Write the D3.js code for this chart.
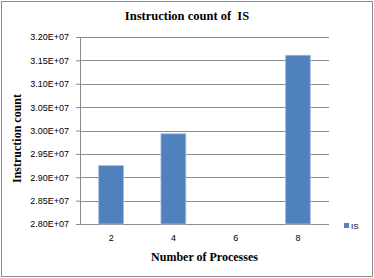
<!DOCTYPE html>
<html>
<head>
<meta charset="utf-8">
<script src="https://cdn.jsdelivr.net/npm/d3@7"></script>
<style>
  body { margin: 0; background: #fff; }
  svg { display: block; }
  .tick text { font-family: "Liberation Sans", Arial, sans-serif; font-size: 9px; fill: #000; }
  .title { font-family: "Liberation Serif", "Times New Roman", serif; font-weight: bold; }
</style>
</head>
<body>
<svg id="chart"></svg>
<script>
const categories = ['2', '4', '6', '8']
const values = [2.925e7, 2.993e7, null, 3.161e7]
const yTicks = [2.80e7, 2.85e7, 2.90e7, 2.95e7, 3.00e7, 3.05e7, 3.10e7, 3.15e7, 3.20e7]
const seriesName = 'IS'

const W = 374, H = 278
const margin = {top: 37, right: 45, bottom: 54, left: 80}
const innerW = W - margin.left - margin.right
const innerH = H - margin.top - margin.bottom

const svg = d3.select('#chart').attr('width', W).attr('height', H)

svg.append('rect')
	.attr('x', 1.5).attr('y', 1.5)
	.attr('width', W - 3).attr('height', H - 3)
	.attr('fill', '#fff').attr('stroke', '#8c8c8c')

const g = svg.append('g').attr('transform', `translate(${margin.left},${margin.top})`)

const x = d3.scaleBand().domain(categories).range([0, innerW]).paddingInner(0.6).paddingOuter(0.3)
const y = d3.scaleLinear().domain([2.8e7, 3.2e7]).range([innerH, 0])

// gridlines
g.selectAll('line.grid')
	.data(yTicks)
	.enter().append('line')
	.attr('class', 'grid')
	.attr('x1', 0).attr('x2', innerW)
	.attr('y1', d => Math.round(y(d)) + 0.5).attr('y2', d => Math.round(y(d)) + 0.5)
	.attr('stroke', '#8c8c8c')

// y axis
const yAxis = g.append('g')
	.call(d3.axisLeft(y).tickValues(yTicks).tickSize(4).tickPadding(7)
		.tickFormat(d => d3.format('.2e')(d).toUpperCase().replace('E+', 'E+0')))
yAxis.select('.domain').attr('stroke', '#8c8c8c')
yAxis.selectAll('.tick line').attr('stroke', '#8c8c8c')

// x axis
const xAxis = g.append('g')
	.attr('transform', `translate(0,${innerH})`)
	.call(d3.axisBottom(x).tickSize(0).tickPadding(11))
xAxis.select('.domain').remove()

// bars
g.selectAll('rect.bar')
	.data(values.map((v, i) => ({cat: categories[i], v})).filter(d => d.v != null))
	.enter().append('rect')
	.attr('class', 'bar')
	.attr('x', d => x(d.cat))
	.attr('width', x.bandwidth())
	.attr('y', d => y(d.v))
	.attr('height', d => innerH - y(d.v))
	.attr('fill', '#4f81bd')
	.attr('stroke', '#a7c0de').attr('stroke-width', 0.8)

// titles
svg.append('text').attr('class', 'title')
	.attr('x', 187).attr('y', 20)
	.attr('text-anchor', 'middle').attr('font-size', 12.5)
	.attr('xml:space', 'preserve')
	.text('Instruction count of  IS')

svg.append('text').attr('class', 'title')
	.attr('x', margin.left + innerW / 2).attr('y', 261)
	.attr('text-anchor', 'middle').attr('font-size', 12)
	.text('Number of Processes')

svg.append('text').attr('class', 'title')
	.attr('transform', `translate(21,${margin.top + innerH / 2 + 8}) rotate(-90)`)
	.attr('text-anchor', 'middle').attr('font-size', 12)
	.text('Instruction count')

// legend
const legend = svg.append('g').attr('transform', 'translate(344,223)')
legend.append('rect').attr('width', 5).attr('height', 5).attr('fill', '#4f81bd')
legend.append('text').attr('x', 7).attr('y', 5.5)
	.attr('font-family', '"Liberation Sans", Arial, sans-serif').attr('font-size', 8)
	.text(seriesName)
</script>
</body>
</html>
